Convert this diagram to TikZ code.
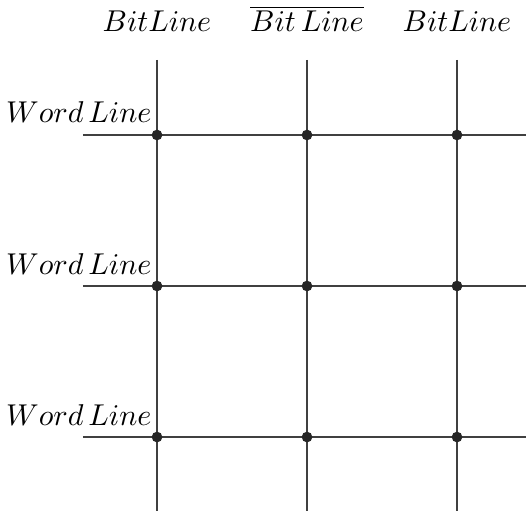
\documentclass[tikz,border=0pt]{standalone}
\usetikzlibrary{positioning}
\begin{document}
\begin{tikzpicture}[
  junction/.style={circle, fill=black!85, minimum size=1.25mm, inner sep=0pt},
  wire/.style={black!75, line width=0.45pt},
  linelabel/.style={inner sep=0pt}]
  \useasboundingbox (0,0) rectangle (6.137,-5.962);
  % bit lines (top and bottom ends)
  \coordinate (t1) at (1.832,-0.70);
  \coordinate (t2) at (3.582,-0.70);
  \coordinate (t3) at (5.332,-0.70);
  \coordinate (b1) at (1.832,-5.962);
  \coordinate (b2) at (3.582,-5.962);
  \coordinate (b3) at (5.332,-5.962);
  % word lines (left and right ends)
  \coordinate (l1) at (0.968,-1.575);
  \coordinate (l2) at (0.968,-3.337);
  \coordinate (l3) at (0.968,-5.099);
  \coordinate (r1) at (6.137,-1.575);
  \coordinate (r2) at (6.137,-3.337);
  \coordinate (r3) at (6.137,-5.099);
  \draw[wire] (t1) -- (b1);
  \draw[wire] (t2) -- (b2);
  \draw[wire] (t3) -- (b3);
  \draw[wire] (l1) -- (r1);
  \draw[wire] (l2) -- (r2);
  \draw[wire] (l3) -- (r3);
  % cells
  \node[junction] (c11) at (1.832,-1.575) {};
  \node[junction] (c12) at (3.582,-1.575) {};
  \node[junction] (c13) at (5.332,-1.575) {};
  \node[junction] (c21) at (1.832,-3.337) {};
  \node[junction] (c22) at (3.582,-3.337) {};
  \node[junction] (c23) at (5.332,-3.337) {};
  \node[junction] (c31) at (1.832,-5.099) {};
  \node[junction] (c32) at (3.582,-5.099) {};
  \node[junction] (c33) at (5.332,-5.099) {};
  % labels
  \node[linelabel, anchor=base] (bl1) at (1.832,-0.373) {$BitLine$};
  \node[linelabel, anchor=base] (bl2) at (3.582,-0.373) {$\overline{Bit\,Line}$};
  \node[linelabel, anchor=base] (bl3) at (5.332,-0.373) {$BitLine$};
  \node[linelabel, anchor=base east] (wl1) at (1.775,-1.435) {$Word\,Line$};
  \node[linelabel, anchor=base east] (wl2) at (1.775,-3.197) {$Word\,Line$};
  \node[linelabel, anchor=base east] (wl3) at (1.775,-4.959) {$Word\,Line$};
\end{tikzpicture}
\end{document}
